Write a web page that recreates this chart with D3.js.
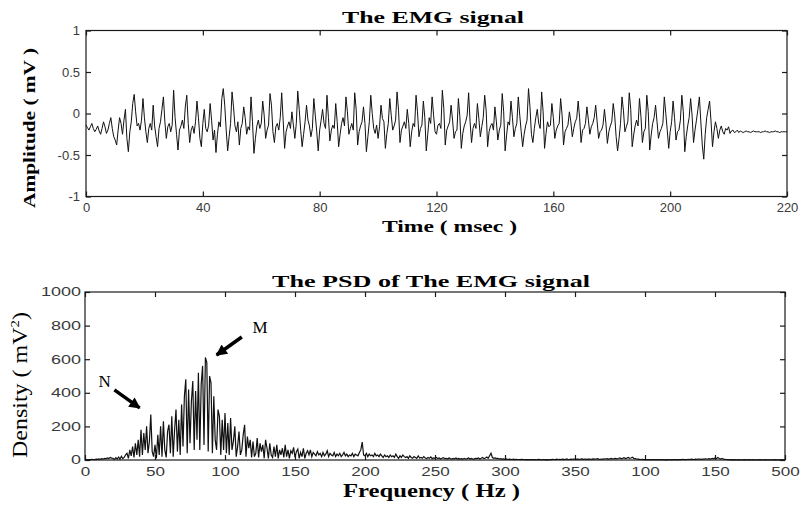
<!DOCTYPE html>
<html>
<head>
<meta charset="utf-8">
<script src="https://cdn.jsdelivr.net/npm/d3@7"></script>
<style>
body { margin: 0; background: #fff; }
svg { display: block; }
</style>
</head>
<body>
<svg id="chart"></svg>
<script>

// EMG signal, one sample every 0.5 ms starting at 0 ms
var emgStep = 0.5;
var emgValues = [
-0.14,-0.17,-0.20,-0.16,-0.12,-0.18,-0.22,-0.19,-0.15,-0.21,-0.25,-0.18,-0.10,-0.16,-0.24,-0.20,-0.12,-0.05,-0.18,-0.28,
-0.32,-0.38,-0.20,-0.05,-0.12,-0.25,-0.08,0.05,-0.30,-0.46,-0.22,-0.10,0.12,0.23,0.02,-0.15,-0.12,-0.20,-0.08,0.18,
-0.05,-0.22,-0.35,-0.18,-0.12,-0.20,0.10,-0.15,-0.28,-0.40,-0.18,-0.10,0.05,0.20,-0.10,-0.30,-0.16,-0.12,-0.22,-0.14,
0.28,-0.05,-0.25,-0.44,-0.20,-0.15,-0.08,-0.18,0.08,0.22,-0.12,-0.35,-0.20,-0.15,-0.24,-0.10,0.15,-0.05,-0.30,-0.40,
-0.12,0.05,-0.18,-0.22,-0.14,0.12,-0.08,-0.32,-0.20,-0.47,-0.25,-0.10,-0.16,0.18,0.30,0.10,-0.20,-0.45,-0.28,-0.12,
0.26,0.08,-0.15,-0.22,-0.10,-0.38,-0.18,-0.12,0.08,-0.05,-0.25,-0.16,-0.20,0.20,-0.10,-0.48,-0.30,-0.15,-0.08,-0.18,
-0.12,0.15,-0.02,-0.30,-0.20,-0.14,0.24,0.10,-0.22,-0.35,-0.16,-0.12,-0.20,-0.05,0.25,-0.08,-0.42,-0.22,-0.15,-0.10,
-0.18,0.02,-0.14,-0.30,-0.12,0.27,0.05,-0.20,-0.40,-0.25,-0.10,0.10,-0.08,-0.15,-0.28,-0.18,0.18,-0.02,-0.22,-0.45,
-0.20,-0.08,0.05,-0.12,-0.18,0.22,-0.05,-0.33,-0.20,-0.14,-0.18,0.12,-0.10,-0.40,-0.25,-0.12,-0.05,-0.15,0.20,0.02,
-0.25,-0.18,-0.12,-0.20,0.25,0.05,-0.38,-0.22,-0.15,-0.10,0.08,-0.12,-0.46,-0.28,-0.10,0.22,0.00,-0.18,-0.24,-0.14,
-0.30,-0.16,0.10,-0.06,-0.10,-0.42,-0.24,-0.12,0.18,-0.02,-0.20,-0.15,-0.08,0.26,0.04,-0.35,-0.20,-0.15,-0.10,-0.18,
0.05,-0.12,-0.40,-0.22,-0.12,-0.16,0.22,0.02,-0.28,-0.18,-0.14,0.15,-0.05,-0.45,-0.25,-0.05,-0.12,0.20,-0.02,-0.22,
-0.25,-0.14,-0.12,-0.18,0.28,0.06,-0.38,-0.20,-0.15,-0.10,0.10,-0.08,-0.30,-0.22,-0.20,0.18,-0.04,-0.42,-0.24,-0.15,
-0.10,-0.02,0.25,-0.10,-0.35,-0.18,-0.12,-0.18,0.12,-0.06,-0.28,-0.16,-0.05,0.22,0.04,-0.40,-0.22,-0.15,-0.12,-0.20,
0.08,-0.10,-0.32,-0.20,-0.14,0.24,0.02,-0.45,-0.26,-0.10,-0.14,0.15,-0.05,-0.28,-0.18,-0.12,0.20,-0.02,-0.22,-0.40,
-0.25,-0.15,-0.08,0.30,0.08,-0.25,-0.35,-0.18,-0.05,0.05,-0.12,-0.18,0.26,0.02,-0.42,-0.24,-0.10,-0.16,-0.14,0.12,
-0.05,-0.30,-0.20,-0.15,-0.12,0.18,-0.02,-0.38,-0.22,-0.18,-0.14,0.02,-0.10,-0.28,-0.18,-0.10,-0.06,0.15,-0.05,-0.35,
-0.20,-0.18,-0.12,0.08,-0.08,-0.25,-0.16,-0.12,-0.05,0.10,-0.10,-0.30,-0.22,-0.20,-0.14,0.05,-0.12,-0.36,-0.22,-0.15,
-0.10,0.12,-0.02,-0.28,-0.45,-0.30,-0.12,0.20,0.04,-0.22,-0.16,-0.10,0.25,0.05,-0.40,-0.26,-0.15,-0.08,-0.15,0.18,
-0.04,-0.35,-0.22,-0.18,0.22,0.02,-0.44,-0.26,-0.12,-0.05,0.10,-0.10,-0.30,-0.22,-0.18,-0.12,0.20,0.00,-0.20,-0.42,
-0.22,-0.10,0.15,-0.05,-0.32,-0.22,-0.20,-0.08,0.22,0.02,-0.46,-0.28,-0.15,-0.05,0.18,-0.02,-0.35,-0.20,-0.08,0.05,
0.20,-0.10,-0.38,-0.55,-0.25,-0.05,0.05,0.15,-0.10,-0.40,-0.22,-0.10,-0.18,-0.30,-0.20,-0.15,-0.22,-0.25,-0.18,-0.20,
-0.16,-0.24,-0.21,-0.20,-0.23,-0.22,-0.20,-0.23,-0.21,-0.22,-0.23,-0.22,-0.21,-0.22,-0.22,-0.23,-0.22,-0.21,-0.22,-0.22,
-0.22,-0.22,-0.23,-0.22,-0.22,-0.21,-0.22,-0.22,-0.23,-0.22,-0.22,-0.22,-0.21,-0.22,-0.22,-0.23,-0.22,-0.22,-0.22,-0.22,-0.22
];

// PSD, one value per Hz from 0 to 500 Hz
var psdValues = [
0,2,1,3,2,4,3,2,5,4,
6,4,8,5,10,7,12,9,15,11,
10,3,14,6,18,5,22,8,15,30,
40,10,60,25,80,15,100,30,120,20,
180,30,160,60,200,40,110,270,50,20,
90,10,150,30,200,20,230,60,15,170,
210,40,260,20,180,300,50,240,30,330,
80,380,480,40,420,100,350,470,60,410,
120,520,60,450,560,90,610,580,50,500,
460,40,380,120,60,300,260,30,240,60,
280,40,220,30,250,60,110,200,20,80,
170,30,60,150,210,20,140,70,120,15,
110,20,40,130,15,100,50,90,10,120,
70,10,100,30,15,80,20,90,10,60,
30,70,15,90,20,60,10,55,40,75,
15,50,65,10,45,20,70,10,40,55,
30,60,20,45,35,25,50,30,40,20,
45,25,35,55,20,40,30,25,45,20,
35,25,40,20,30,45,25,35,20,30,
25,40,20,35,30,25,45,60,107,30,
25,40,20,35,25,30,20,40,25,30,
20,35,25,15,30,20,25,15,30,20,
25,15,35,20,10,25,15,30,20,15,
20,10,25,15,10,20,15,10,25,12,
15,10,20,12,8,15,10,18,8,12,
10,15,8,12,6,10,14,8,10,6,
12,8,5,10,7,12,6,9,5,8,
6,10,5,8,12,6,9,5,7,10,
8,12,6,10,15,8,12,18,10,25,
40,15,10,12,8,10,6,8,5,7,
4,6,3,5,4,3,5,2,4,3,
3,2,4,3,2,3,1,2,3,2,
2,3,1,2,4,2,1,3,2,1,
2,1,3,2,4,3,2,5,3,4,
3,5,4,3,6,4,3,5,4,6,
5,4,6,3,5,7,4,6,5,4,
6,4,5,7,5,6,8,5,4,6,
5,7,6,8,5,7,9,6,8,10,
7,9,12,8,10,14,9,11,15,10,
12,16,10,8,6,5,4,3,4,2,
3,2,2,3,1,2,3,2,1,2,
2,1,3,2,1,2,1,3,2,1,
2,3,2,1,2,3,2,4,3,2,
3,4,3,5,4,3,5,4,6,5,
4,6,5,7,6,5,8,6,10,7,
12,8,15,9,6,10,5,4,3,2,
2,1,2,1,2,1,1,2,1,1,
1,2,1,1,2,1,1,2,1,1,
1,1,2,1,1,1,2,1,1,1,
1,1,1,2,1,1,1,1,1,1,0
];

var timeTicks = [0, 40, 80, 120, 160, 200, 240];
var timeTickLabels = ["0", "40", "80", "120", "160", "200", "220"];
var ampTicks = [-1, -0.5, 0, 0.5, 1];
var ampTickLabels = ["-1", "-0.5", "0", "0.5", "1"];
var freqTicks = [0, 50, 100, 150, 200, 250, 300, 350, 400, 450, 500];
var freqTickLabels = ["0", "50", "100", "150", "200", "250", "300", "350", "100", "150", "500"];
var densTicks = [0, 200, 400, 600, 800, 1000];

// arrow annotations on the PSD (Hz, mV^2)
var noteLabels = ["N", "M"];
var noteTextAt = [[14, 470], [125, 790]];
var noteArrowFrom = [[21, 417], [112, 732]];
var noteArrowTo = [[39, 310], [94, 625]];

var W = 801, H = 506;
var svg = d3.select("#chart").attr("width", W).attr("height", H);

var serif = "'Liberation Serif', 'Times New Roman', serif";
var sans = "'Liberation Sans', Arial, sans-serif";

svg.append("defs").append("marker")
  .attr("id", "head")
  .attr("viewBox", "0 0 10 10")
  .attr("refX", 9).attr("refY", 5)
  .attr("markerWidth", 3.4).attr("markerHeight", 3.2)
  .attr("markerUnits", "strokeWidth")
  .attr("orient", "auto")
  .append("path").attr("d", "M0,0L10,5L0,10z").attr("fill", "#000");

function styleAxis(sel, f) {
  sel.select(".domain").remove();
  sel.selectAll(".tick line").attr("stroke", "#1a1a1a").attr("stroke-width", 1.2);
  sel.selectAll(".tick text")
    .attr("font-family", sans).attr("font-size", f.size).attr("fill", "#3a3a3a")
    .each(function() {
      var t = d3.select(this).text();
      if (f.charW && t) {
        d3.select(this).attr("textLength", t.length * f.charW).attr("lengthAdjust", "spacingAndGlyphs");
      }
    });
}

// framed plot with inward ticks on all four sides
function boxAxes(g, x, y, xt, xl, yt, yl, xFont, yFont) {
  var xr = x.range(), yr = y.range();
  g.append("g").attr("transform", "translate(0," + yr[0] + ")")
    .call(d3.axisBottom(x).tickValues(xt).tickSize(-5).tickPadding(xFont.pad)
      .tickFormat(function(d, i) { return xl[i]; }))
    .call(styleAxis, xFont);
  g.append("g").attr("transform", "translate(0," + yr[1] + ")")
    .call(d3.axisTop(x).tickValues(xt).tickSize(-5).tickFormat(""))
    .call(styleAxis, xFont);
  g.append("g").attr("transform", "translate(" + xr[0] + ",0)")
    .call(d3.axisLeft(y).tickValues(yt).tickSize(-5).tickPadding(yFont.pad)
      .tickFormat(function(d, i) { return yl ? yl[i] : d; }))
    .call(styleAxis, yFont);
  g.append("g").attr("transform", "translate(" + xr[1] + ",0)")
    .call(d3.axisRight(y).tickValues(yt).tickSize(-5).tickFormat(""))
    .call(styleAxis, yFont);
  g.append("rect")
    .attr("x", xr[0]).attr("y", yr[1])
    .attr("width", xr[1] - xr[0]).attr("height", yr[0] - yr[1])
    .attr("fill", "none").attr("stroke", "#1a1a1a").attr("stroke-width", 1.2);
}

// ---------- top panel: EMG signal ----------
var x1 = d3.scaleLinear().domain([0, 240]).range([86, 787]);
var y1 = d3.scaleLinear().domain([-1, 1]).range([196.5, 30.5]);

var topPanel = svg.append("g");
boxAxes(topPanel, x1, y1, timeTicks, timeTickLabels, ampTicks, ampTickLabels,
  { size: 13, pad: 6 }, { size: 13, pad: 6 });

var emgLine = d3.line()
  .x(function(d, i) { return x1(i * emgStep); })
  .y(function(d) { return y1(d); });

topPanel.append("path")
  .datum(emgValues)
  .attr("d", emgLine)
  .attr("fill", "none")
  .attr("stroke", "#111")
  .attr("stroke-width", 1);

topPanel.append("text")
  .attr("x", 342).attr("y", 23)
  .attr("textLength", 182).attr("lengthAdjust", "spacingAndGlyphs")
  .attr("font-family", serif).attr("font-weight", "bold").attr("font-size", 17)
  .text("The EMG signal");

topPanel.append("text")
  .attr("x", 382).attr("y", 232)
  .attr("textLength", 135).attr("lengthAdjust", "spacingAndGlyphs")
  .attr("font-family", serif).attr("font-weight", "bold").attr("font-size", 17)
  .text("Time ( msec )");

topPanel.append("text")
  .attr("transform", "translate(35,128) rotate(-90)")
  .attr("text-anchor", "middle")
  .attr("textLength", 160).attr("lengthAdjust", "spacingAndGlyphs")
  .attr("font-family", serif).attr("font-weight", "bold").attr("font-size", 17)
  .text("Amplitude ( mV )");

// ---------- bottom panel: PSD ----------
var x2 = d3.scaleLinear().domain([0, 500]).range([85, 785]);
var y2 = d3.scaleLinear().domain([0, 1000]).range([460, 292]);

var bottomPanel = svg.append("g");
boxAxes(bottomPanel, x2, y2, freqTicks, freqTickLabels, densTicks, null,
  { size: 12, pad: 7, charW: 9.5 }, { size: 12, pad: 4, charW: 10 });

var psdLine = d3.line()
  .x(function(d, i) { return x2(i); })
  .y(function(d) { return y2(d); });

bottomPanel.append("path")
  .datum(psdValues)
  .attr("d", psdLine)
  .attr("fill", "none")
  .attr("stroke", "#111")
  .attr("stroke-width", 1.2);

bottomPanel.append("text")
  .attr("x", 272).attr("y", 287)
  .attr("textLength", 318).attr("lengthAdjust", "spacingAndGlyphs")
  .attr("font-family", serif).attr("font-weight", "bold").attr("font-size", 17)
  .text("The PSD of The EMG signal");

bottomPanel.append("text")
  .attr("x", 343).attr("y", 497)
  .attr("textLength", 177).attr("lengthAdjust", "spacingAndGlyphs")
  .attr("font-family", serif).attr("font-weight", "bold").attr("font-size", 19)
  .text("Frequency ( Hz )");

var dens = bottomPanel.append("text")
  .attr("transform", "translate(27,385) rotate(-90)")
  .attr("text-anchor", "middle")
  .attr("font-family", serif).attr("font-size", 21)
  .attr("textLength", 146).attr("lengthAdjust", "spacingAndGlyphs");
dens.append("tspan").text("Density ( mV");
dens.append("tspan").attr("dy", -8).attr("font-size", 13).text("2");
dens.append("tspan").attr("dy", 8).text(")");

noteLabels.forEach(function(lab, i) {
  bottomPanel.append("line")
    .attr("x1", x2(noteArrowFrom[i][0])).attr("y1", y2(noteArrowFrom[i][1]))
    .attr("x2", x2(noteArrowTo[i][0])).attr("y2", y2(noteArrowTo[i][1]))
    .attr("stroke", "#000").attr("stroke-width", 3.5)
    .attr("marker-end", "url(#head)");
  bottomPanel.append("text")
    .attr("x", x2(noteTextAt[i][0])).attr("y", y2(noteTextAt[i][1]))
    .attr("text-anchor", "middle").attr("dy", "0.35em")
    .attr("font-family", serif).attr("font-size", 17)
    .text(lab);
});

</script>
</body>
</html>
